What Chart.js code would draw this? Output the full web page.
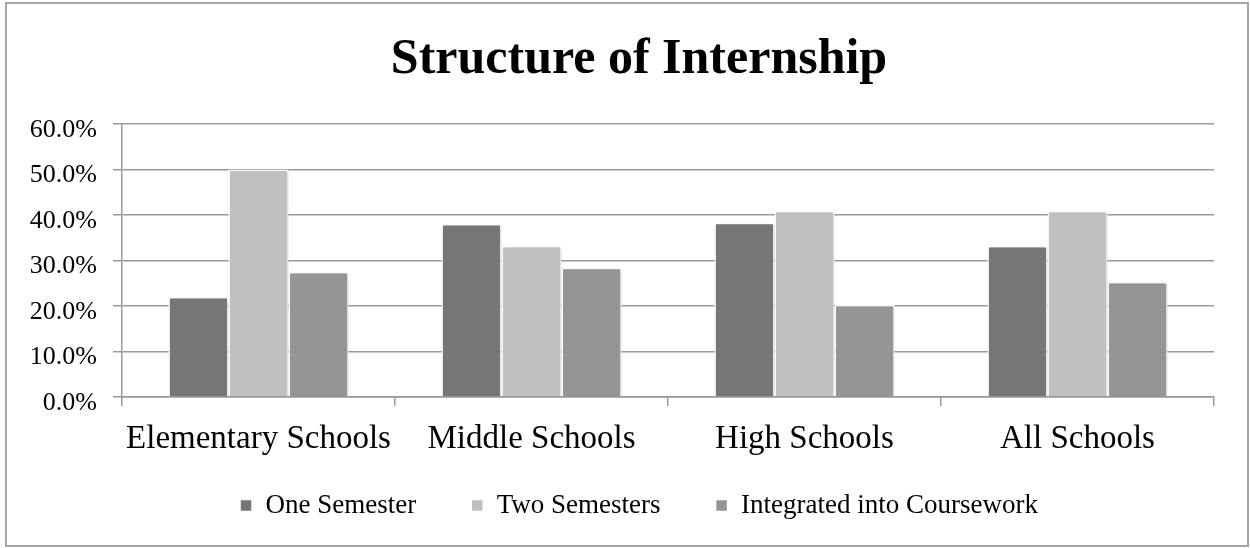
<!DOCTYPE html>
<html>
<head>
<meta charset="utf-8">
<script src="https://cdn.jsdelivr.net/npm/chart.js@4.4.1/dist/chart.umd.min.js"></script>
<style>
  html, body { margin: 0; padding: 0; background: #fff; }
  #wrap { width: 1250px; height: 548px; }
</style>
</head>
<body>
<div id="wrap"><canvas id="internChart" width="1250" height="548"></canvas></div>
<script>
const categories = ["Elementary Schools", "Middle Schools", "High Schools", "All Schools"];
const oneSemester = [22.0, 38.0, 38.3, 33.2];
const twoSemesters = [50.0, 33.2, 40.9, 40.9];
const integrated = [27.5, 28.4, 20.2, 25.3];
const yTicks = [0, 10, 20, 30, 40, 50, 60];

const serif = "'Liberation Serif', 'Times New Roman', serif";

// outer frame, soft shadow under bars, no label clipping on the axes
const framePlugin = {
  id: "frame",
  afterLayout: (chart) => {
    Object.values(chart.scales).forEach((s) => {
      s._computeLabelArea = () => undefined;
    });
  },
  beforeDatasetsDraw: (chart) => {
    const c = chart.ctx;
    c.save();
    c.shadowColor = "rgba(0,0,0,0.22)";
    c.shadowBlur = 3;
    c.shadowOffsetX = 1;
    c.shadowOffsetY = 1;
  },
  afterDatasetsDraw: (chart) => {
    chart.ctx.restore();
  },
  afterDraw: (chart) => {
    const c = chart.ctx;
    c.save();
    c.strokeStyle = "#a6a6a6";
    c.lineWidth = 2;
    c.strokeRect(6, 3, 1242, 543);
    c.restore();
  },
};

const ctx = document.getElementById("internChart").getContext("2d");
const data = {
  labels: categories,
  datasets: [
    { label: "One Semester", data: oneSemester, backgroundColor: "#767676" },
    { label: "Two Semesters", data: twoSemesters, backgroundColor: "#c0c0c0" },
    { label: "Integrated into Coursework", data: integrated, backgroundColor: "#959595" },
  ],
};
data.datasets.forEach((ds) => {
  ds.borderColor = "#ffffff";
  ds.borderWidth = 1.5;
  ds.barPercentage = 1.0;
  ds.categoryPercentage = 0.66;
});

const config = {
  type: "bar",
  data: data,
  plugins: [framePlugin],
  options: {
    responsive: false,
    animation: false,
    devicePixelRatio: 1,
    layout: { padding: { left: 64, right: 36, top: 0, bottom: 19 } },
    plugins: {
      title: {
        display: true,
        text: "Structure of Internship",
        color: "#000",
        font: { family: serif, size: 50, weight: "bold", lineHeight: 1.2 },
        padding: { top: 30, bottom: 34 },
      },
      legend: {
        position: "bottom",
        labels: {
          color: "#000",
          font: { family: serif, size: 27 },
          boxWidth: 12,
          boxHeight: 12,
          padding: 55,
        },
      },
      tooltip: { enabled: false },
    },
    scales: {
      x: {
        grid: {
          display: true,
          drawOnChartArea: false,
          drawTicks: true,
          tickLength: 9,
          color: "#999999",
          lineWidth: 1.5,
        },
        border: { color: "#999999", width: 1.5 },
        ticks: {
          color: "#000",
          font: { family: serif, size: 33 },
          padding: 14,
          maxRotation: 0,
        },
        afterFit: (scale) => { scale.height = 40; },
      },
      y: {
        min: 0,
        max: 60,
        afterBuildTicks: (scale) => { scale.ticks = yTicks.map((v) => ({ value: v })); },
        grid: { color: "#999999", lineWidth: 1.5, tickLength: 9 },
        border: { color: "#999999", width: 1.5 },
        ticks: {
          color: "#000",
          font: { family: serif, size: 26 },
          padding: 16,
          labelOffset: 6,
          callback: (v) => v.toFixed(1) + "%",
        },
        afterFit: (scale) => { scale.width = 58; },
      },
    },
  },
};
const internChart = new Chart(ctx, config);
</script>
</body>
</html>
